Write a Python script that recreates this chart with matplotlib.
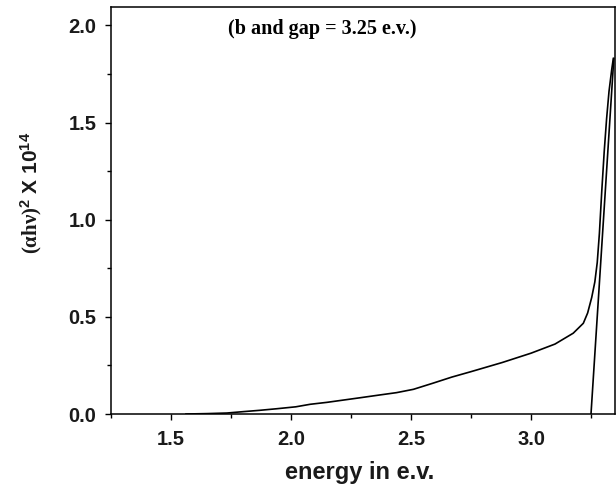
import matplotlib
matplotlib.use("Agg")
import matplotlib.pyplot as plt
from matplotlib.ticker import MultipleLocator

plt.rcParams['mathtext.fontset'] = 'custom'
plt.rcParams['mathtext.rm'] = 'Liberation Sans:bold'
plt.rcParams['mathtext.bf'] = 'Liberation Sans:bold'
plt.rcParams['mathtext.it'] = 'Liberation Sans:bold'

# data
energy = [1.5625, 1.65, 1.733, 1.80, 1.87, 1.94, 2.02, 2.08, 2.15, 2.22, 2.29,
          2.37, 2.44, 2.51, 2.59, 2.67, 2.75, 2.88, 3.00, 3.10, 3.176, 3.218,
          3.236, 3.253, 3.266, 3.276, 3.285, 3.295, 3.305, 3.315, 3.325, 3.336, 3.343]
alpha_hv2 = [0.0, 0.002, 0.005, 0.012, 0.019, 0.027, 0.037, 0.05, 0.06, 0.072, 0.084,
             0.098, 0.11, 0.127, 0.158, 0.19, 0.218, 0.265, 0.313, 0.36, 0.416, 0.467,
             0.52, 0.60, 0.68, 0.78, 0.93, 1.15, 1.35, 1.52, 1.66, 1.77, 1.83]
tangent_x = [3.25, 3.345]
tangent_y = [0.0, 1.83]
annotation = "(b and gap = 3.25 e.v.)"
x_label = "energy in e.v."

fig = plt.figure(figsize=(6.16, 4.93), dpi=100)
W, H = 616, 493
ax = fig.add_axes([111 / W, 1 - 414 / H, (615 - 111) / W, (414 - 7) / H])

ax.plot(energy, alpha_hv2, color='black', lw=1.2)
ax.plot(tangent_x, tangent_y, color='black', lw=1.2)

ax.set_xlim(1.25, 3.35)
ax.set_ylim(0.0, 2.095)
ax.xaxis.set_major_locator(MultipleLocator(0.5))
ax.xaxis.set_minor_locator(MultipleLocator(0.25))
ax.yaxis.set_major_locator(MultipleLocator(0.5))
ax.yaxis.set_minor_locator(MultipleLocator(0.25))
ax.tick_params(which='major', direction='out', length=4.5, width=1.0, pad=6,
               labelsize=14.5, top=False, right=False)
ax.tick_params(which='minor', direction='out', length=3, width=1.0,
               top=False, right=False)
ax.tick_params(axis='x', which='major', pad=7)
for lab in ax.get_xticklabels() + ax.get_yticklabels():
    lab.set_fontfamily('Liberation Sans')
    lab.set_fontweight('bold')
    lab.set_color('#1a1a1a')
for s in ax.spines.values():
    s.set_linewidth(1.1)

ax.text((322 - 111) / (615 - 111), 1 - (29 - 7) / (414 - 7), annotation,
        transform=ax.transAxes, ha='center', va='center',
        fontfamily='Liberation Serif', fontweight='bold', fontsize=14.5)

fig.text(360 / W, 1 - 473 / H, x_label, ha='center', va='center',
         fontfamily='Liberation Sans', fontweight='bold', fontsize=17, color='#1a1a1a')

# y label in two parts (serif and sans)
fig.text(31 / W, 1 - 254 / H, r"(αhν)$^{2}$", rotation=90, ha='center', va='bottom',
         fontfamily='Liberation Serif', fontweight='bold', fontsize=15, color='#1a1a1a')
fig.text(31 / W, 1 - 199 / H, r" X 10$^{14}$", rotation=90, ha='center', va='bottom',
         fontfamily='Liberation Sans', fontweight='bold', fontsize=15, color='#1a1a1a')

fig.savefig("out.png", dpi=100)
